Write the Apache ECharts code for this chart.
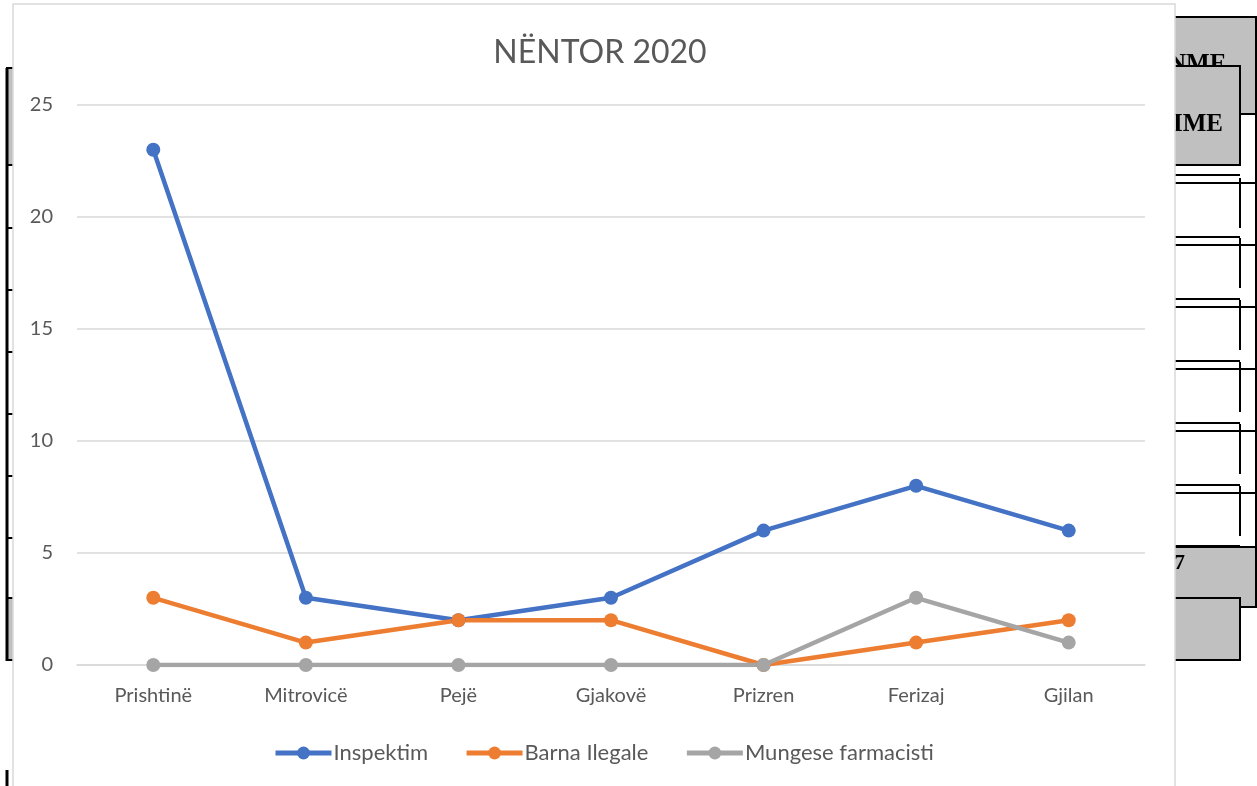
<!DOCTYPE html>
<html>
<head>
<meta charset="utf-8">
<script src="https://cdn.jsdelivr.net/npm/echarts@6/dist/echarts.min.js"></script>
<style>
  html, body { margin: 0; padding: 0; background: #fff; }
  #chart { width: 1257px; height: 786px; }
</style>
</head>
<body>
<div id="chart"></div>
<script>
const cities = ["Prishtinë", "Mitrovicë", "Pejë", "Gjakovë", "Prizren", "Ferizaj", "Gjilan"];
const inspektim = [23, 3, 2, 3, 6, 8, 6];
const barnaIlegale = [3, 1, 2, 2, 0, 1, 2];
const mungeseFarmacisti = [0, 0, 0, 0, 0, 3, 1];

const font = "Lato, 'Open Sans', sans-serif";
const textColor = "#595959";

// bits of the table behind the chart (decoration only), on a lower layer
const deco = [];
let order = 0;
const add = el => { el.zlevel = -1; el.z = order++; deco.push(el); };
const line = (x1, y1, x2, y2, w) => add({
  type: "line", shape: { x1, y1, x2, y2 }, style: { stroke: "#000", lineWidth: w || 2 }
});
const box = (x, y, w, h, fill) => add({
  type: "rect", shape: { x, y, width: w, height: h },
  style: { fill: fill, stroke: "#000", lineWidth: 2 }
});
const serif = "bold 25px 'Liberation Serif', serif";
// left side
add({ type: "rect", shape: { x: 8, y: 68, width: 6, height: 97 }, style: { fill: "#c0c0c0" } });
add({ type: "rect", shape: { x: 8, y: 598, width: 6, height: 62 }, style: { fill: "#c0c0c0" } });
line(7, 68, 7, 661, 3);
[68, 165, 228, 290, 352, 414, 476, 538, 598, 660].forEach(y => line(6, y, 14, y, 2));
line(7, 770, 7, 786, 3);
// right side
box(1170, 17, 86, 97, "#c0c0c0");
add({ type: "text", x: 1168, y: 52, style: { text: "NME", font: serif, fill: "#000" } });
box(1170, 66, 70, 99, "#c0c0c0");
add({ type: "text", x: 1173, y: 112, style: { text: "IME", font: serif, fill: "#000" } });
line(1256, 114, 1256, 560, 2);
[175, 237, 299, 361, 423, 485, 546].forEach(y => { line(1170, y, 1240, y, 2); line(1170, y + 8, 1256, y + 8, 2); });
[178, 238, 300, 362, 424, 486].forEach(y => line(1240, y, 1240, y + 50, 2));
box(1170, 547, 86, 60, "#c0c0c0");
add({ type: "text", x: 1174, y: 552, style: { text: "7", font: "bold 22px 'Liberation Serif', serif", fill: "#000" } });
box(1170, 598, 70, 62, "#c0c0c0");
// the chart's own white area
add({
  type: "rect", shape: { x: 13, y: 4, width: 1162, height: 790 },
  style: { fill: "#fff", stroke: "#d9d9d9", lineWidth: 1.5 }
});

const chart = echarts.init(document.getElementById("chart"));
const mk = (name, data, color) => ({
  name, type: "line", data,
  symbol: "circle", symbolSize: 14,
  lineStyle: { color, width: 4.5 },
  itemStyle: { color },
  z: 5
});

chart.setOption({
  animation: false,
  graphic: deco,
  title: {
    text: "NËNTOR 2020",
    left: 595, textAlign: "center", top: 32,
    textStyle: { fontFamily: font, fontSize: 32, fontWeight: "normal", color: textColor }
  },
  legend: {
    top: 737, left: 268,
    itemWidth: 56, itemHeight: 16, itemGap: 36,
    lineStyle: { width: 5 },
    textStyle: { fontFamily: font, fontSize: 22, color: textColor, padding: [0, 0, 0, -3] },
    data: ["Inspektim", "Barna Ilegale", "Mungese farmacisti"]
  },
  grid: { left: 77, right: 112, top: 105, bottom: 121 },
  xAxis: {
    type: "category", data: cities, boundaryGap: true,
    axisLine: { lineStyle: { color: "#d9d9d9", width: 1.5 } },
    axisTick: { show: false },
    axisLabel: { fontFamily: font, fontSize: 20, color: textColor, margin: 21 }
  },
  yAxis: {
    type: "value", min: 0, max: 25, interval: 5,
    axisLine: { show: false }, axisTick: { show: false },
    splitLine: { lineStyle: { color: "#d9d9d9", width: 1.5 } },
    axisLabel: { fontFamily: font, fontSize: 20, color: textColor, margin: 24 }
  },
  series: [
    mk("Inspektim", inspektim, "#4472c4"),
    mk("Barna Ilegale", barnaIlegale, "#ed7d31"),
    mk("Mungese farmacisti", mungeseFarmacisti, "#a5a5a5")
  ]
});
</script>
</body>
</html>
